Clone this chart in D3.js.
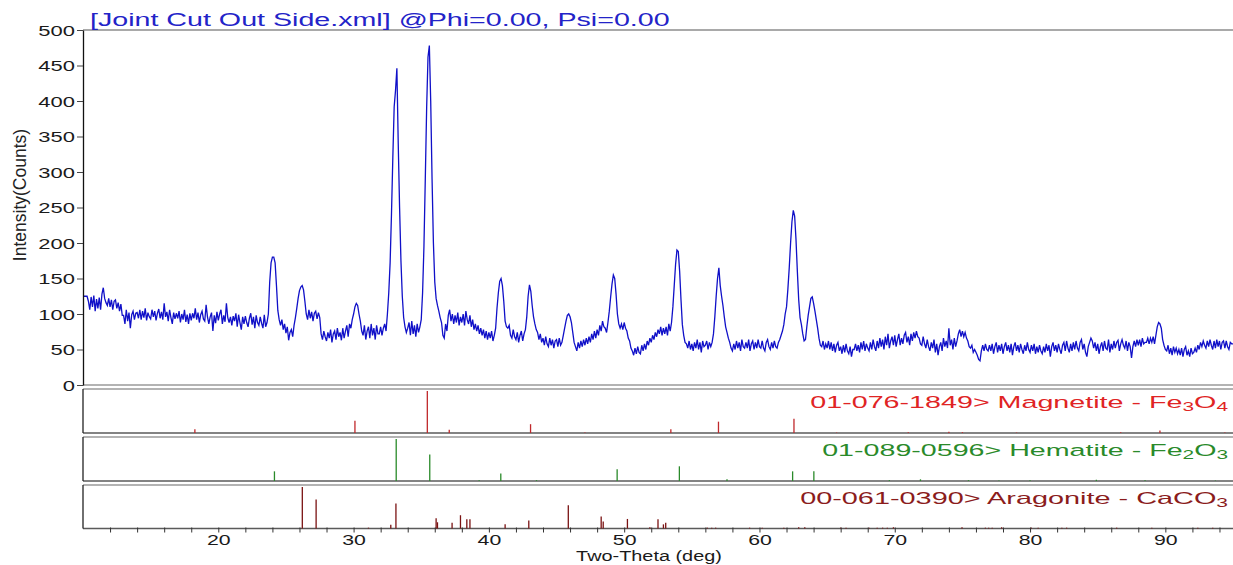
<!DOCTYPE html>
<html><head><meta charset="utf-8">
<script src="https://cdn.jsdelivr.net/npm/d3@7/dist/d3.min.js"></script>
<style>
body{margin:0;background:#fff}
svg{display:block}
text{font-family:"Liberation Sans",Arial,sans-serif}
</style>
</head><body>
<svg id="c" width="1233" height="565"></svg>
<script>
// ---------------- DATA ----------------
const titleText = "[Joint Cut Out Side.xml] @Phi=0.00, Psi=0.00";
const xLabel = "Two-Theta (deg)";
const yLabel = "Intensity(Counts)";
const xDomain = [10, 95];
const yDomain = [0, 500];
const yTicks = [0, 50, 100, 150, 200, 250, 300, 350, 400, 450, 500];
const xTicks = [12,14,16,18,20,22,24,26,28,30,32,34,36,38,40,42,44,46,48,50,52,54,56,58,60,62,64,66,68,70,72,74,76,78,80,82,84,86,88,90,92,94];
const xTickLabels = [20, 30, 40, 50, 60, 70, 80, 90];

// scan: start angle, step size, counts (one row per degree)
const scanStart = 10.0, scanStep = 0.1;
const counts = [
/*10*/125,125,125,125,118,106,124,110,126,104,
/*11*/121,108,123,106,128,137,122,116,112,122,
/*12*/110,120,106,118,120,108,116,104,114,98,
/*13*/98,86,106,90,102,80,99,104,92,101,
/*14*/102,94,106,92,104,95,108,91,102,96,
/*15*/93,106,96,104,91,101,107,94,103,92,
/*16*/115,96,103,90,106,95,86,102,93,101,
/*17*/94,104,88,100,92,106,89,99,86,101,
/*18*/91,101,94,108,92,102,88,99,104,93,
/*19*/90,113,96,86,96,102,76,98,87,103,
/*20*/91,100,106,86,98,89,115,95,88,96,
/*21*/84,97,90,101,82,99,88,78,96,86,
/*22*/97,88,82,94,101,85,96,80,98,88,
/*23*/84,96,87,80,99,82,88,100,145,172,
/*24*/180,180,172,140,105,92,84,92,78,86,
/*25*/73,82,63,74,78,68,84,95,108,122,
/*26*/133,138,140,134,118,100,92,106,94,103,
/*27*/90,101,104,93,102,95,72,64,76,68,
/*28*/62,74,66,78,60,72,76,64,80,68,
/*29*/74,63,80,66,76,84,68,86,80,92,
/*30*/100,110,115,112,100,90,76,70,84,64,
/*31*/76,82,66,86,70,80,64,84,72,72,
/*32*/82,70,80,86,76,100,130,172,240,320,
/*33*/392,415,446,340,250,175,125,95,82,74,
/*34*/80,88,70,90,72,84,68,86,74,82,
/*35*/92,130,195,290,390,462,478,400,290,200,
/*36*/145,122,112,104,95,88,70,66,86,76,
/*37*/98,106,90,100,86,98,88,102,84,96,
/*38*/88,100,84,104,92,86,98,82,92,78,
/*39*/86,76,84,72,80,70,78,66,76,64,
/*40*/74,66,76,62,70,80,108,130,146,150,
/*41*/140,118,90,82,80,84,70,66,78,68,
/*42*/64,74,60,70,76,62,72,78,96,125,
/*43*/141,132,112,96,86,78,74,64,72,60,
/*44*/66,56,68,58,54,66,56,64,52,62,
/*45*/64,54,66,56,60,70,80,90,98,100,
/*46*/96,88,74,60,54,48,60,52,62,54,
/*47*/64,56,66,58,68,60,72,64,76,66,
/*48*/78,70,84,76,90,82,80,74,88,104,
/*49*/124,142,155,150,128,100,86,80,86,78,
/*50*/88,80,76,66,62,52,48,42,52,44,
/*51*/54,46,44,56,48,58,50,62,56,66,
/*52*/60,70,64,74,68,78,72,82,70,80,
/*53*/72,82,70,86,76,88,110,140,170,190,
/*54*/188,160,120,85,70,60,58,52,62,50,
/*55*/58,48,60,52,64,50,60,46,62,54,
/*56*/56,62,50,60,54,60,72,96,125,150,
/*57*/165,140,125,112,96,82,74,66,60,52,
/*58*/48,58,50,62,52,60,48,64,54,52,
/*59*/60,52,64,48,58,62,50,60,52,64,
/*60*/54,52,62,52,48,60,64,54,50,60,
/*61*/52,62,54,52,60,64,70,76,85,100,
/*62*/110,135,165,200,230,246,238,205,160,120,
/*63*/95,85,72,62,64,82,98,110,122,124,
/*64*/115,104,92,80,66,56,54,62,50,58,
/*65*/52,62,50,60,48,58,46,56,60,48,
/*66*/54,44,56,46,58,48,44,54,40,50,
/*67*/50,58,48,56,46,60,50,62,48,58,
/*68*/52,48,60,50,64,54,48,62,52,66,
/*69*/54,64,50,68,56,72,52,62,68,56,
/*70*/70,54,64,72,56,66,58,70,74,60,
/*71*/68,56,72,62,74,66,76,68,66,58,
/*72*/56,68,58,52,64,54,48,60,52,64,
/*73*/46,58,42,54,60,48,66,54,62,52,
/*74*/80,56,64,50,66,54,62,72,78,68,
/*75*/76,68,74,66,62,54,52,56,46,50,
/*76*/46,42,36,34,48,56,48,58,50,48,
/*77*/56,48,58,44,54,60,46,56,48,58,
/*78*/44,54,60,48,56,46,58,42,54,60,
/*79*/48,56,46,58,50,44,56,48,60,50,
/*80*/46,56,48,58,44,54,46,56,48,44,
/*81*/54,46,58,48,56,40,54,60,48,56,
/*82*/46,58,50,44,56,60,48,62,52,46,
/*83*/58,48,60,50,62,52,48,60,64,50,
/*84*/58,46,40,54,60,66,62,52,60,48,
/*85*/58,44,54,60,48,62,52,50,64,46,
/*86*/58,50,62,52,60,63,48,58,64,56,
/*87*/52,62,48,60,54,38,54,62,54,64,
/*88*/56,64,54,66,58,60,60,66,58,66,
/*89*/60,68,58,70,82,88,86,80,64,56,
/*90*/50,48,56,44,52,42,54,46,52,44,
/*91*/50,42,52,40,50,54,42,48,40,52,
/*92*/44,46,52,46,56,50,60,54,62,56,
/*93*/52,62,54,64,56,50,62,52,64,54,
/*94*/62,50,60,62,52,62,54,50,60,58,
/*95*/58
];

// reference patterns (2-theta, relative intensity %)
const magnetiteLabel = ["01-076-1849> Magnetite - Fe", "3", "O", "4"];
const magnetitePos = [18.27, 30.10, 35.45, 37.07, 43.08, 47.1, 53.45, 56.97, 62.55, 65.7, 71.0, 74.0, 75.0, 79.0, 86.7, 89.6, 94.4];
const magnetiteInt = [9, 29, 100, 8, 21, 1, 9, 27, 34, 1, 2, 3, 2, 1, 2, 6, 1];

const hematiteLabel = ["01-089-0596> Hematite - Fe", "2", "O", "3"];
const hematitePos = [24.15, 33.15, 35.63, 39.28, 40.88, 43.52, 49.48, 54.08, 57.6, 62.45, 64.02, 69.6, 71.9, 75.45, 77.7, 80.0, 84.9, 88.5, 93.7];
const hematiteInt = [23, 100, 63, 2, 18, 2, 28, 35, 4, 23, 23, 2, 4, 2, 1, 2, 3, 2, 1];

const aragoniteLabel = ["00-061-0390> Aragonite - CaCO", "3"];
const aragonitePos = [26.21, 27.23, 31.1, 32.75, 33.13, 36.1, 36.2, 37.28, 37.9, 38.37, 38.6, 41.2, 42.95, 45.87, 48.3, 48.45, 50.24, 51.9, 52.5, 52.9, 53.07, 56.15, 56.47, 56.76, 59.27, 60.2, 61.8, 62.9, 63.35, 66.0, 66.4, 68.1, 68.7, 69.1, 69.45, 69.9, 74.97, 76.7, 76.94, 77.2, 77.9, 80.1, 80.6, 82.35, 82.7, 86.4, 89.0, 92.4, 93.5];
const aragoniteInt = [100, 70, 2, 9, 60, 25, 15, 14, 32, 22, 22, 10, 19, 56, 29, 17, 23, 3, 22, 10, 14, 2, 2, 2, 2, 2, 2, 3, 3, 2, 2, 2, 2, 2, 2, 3, 3, 2, 2, 2, 3, 2, 2, 2, 2, 2, 2, 2, 2];

// ---------------- DRAW ----------------
const svg = d3.select("#c");
const L = 83, R = 1233;
const mainTop = 30, mainBottom = 385;
const x = d3.scaleLinear().domain(xDomain).range([L, R]);
const y = d3.scaleLinear().domain(yDomain).range([mainBottom, mainTop]);

const scan = counts.map((c, i) => [scanStart + i * scanStep, c]);

// horizontally stretched text helper
function stretchText(g, target) {
  const t = g.select("text");
  const w = t.node().getComputedTextLength();
  const s = target / w;
  const tr = g.attr("data-tr");
  g.attr("transform", tr + ` scale(${s},1)`);
}

svg.append("defs").append("clipPath").attr("id", "clipMain")
  .append("rect").attr("x", L).attr("y", mainTop).attr("width", R - L).attr("height", mainBottom - mainTop);

// main frame lines
svg.append("line").attr("x1", L).attr("x2", R).attr("y1", mainTop).attr("y2", mainTop)
  .attr("stroke", "#8c8c8c").attr("stroke-width", 1.6);
svg.append("line").attr("x1", L).attr("x2", R).attr("y1", mainBottom).attr("y2", mainBottom)
  .attr("stroke", "#9a9a9a").attr("stroke-width", 1.4);

// scan line
svg.append("path").datum(scan)
  .attr("clip-path", "url(#clipMain)")
  .attr("fill", "none").attr("stroke", "#1010c8").attr("stroke-width", 1.3)
  .attr("stroke-linejoin", "miter")
  .attr("d", d3.line().x(d => x(d[0])).y(d => y(d[1])));

// y axis
const yAxisG = svg.append("g").attr("transform", `translate(${L},0)`)
  .call(d3.axisLeft(y).tickValues(yTicks).tickSize(6).tickSizeOuter(0));
yAxisG.select(".domain").attr("stroke", "#111").attr("stroke-width", 1.3);
yAxisG.selectAll(".tick line").attr("stroke", "#444");
yAxisG.selectAll(".tick text")
  .attr("x", 0).attr("dy", "0.36em")
  .attr("transform", "translate(-8,0) scale(1.57,1)")
  .attr("font-size", 14).attr("font-family", "Liberation Sans, Arial, sans-serif")
  .attr("fill", "#1a1a1a");

// y label
svg.append("text").text(yLabel)
  .attr("transform", "translate(25.5,195) rotate(-90)")
  .attr("text-anchor", "middle").attr("font-size", 17.5).attr("fill", "#222");

// title
{
  const g = svg.append("g").attr("data-tr", "translate(90,26)").attr("transform", "translate(90,26)");
  g.append("text").text(titleText).attr("font-size", 18).attr("fill", "#2323c8");
  stretchText(g, 580);
}

// stick panels
const panels = [
  {pos: magnetitePos, int: magnetiteInt, label: magnetiteLabel, top: 389, bottom: 433, stick: "#c0282b", text: "#e02424", width: 418},
  {pos: hematitePos, int: hematiteInt, label: hematiteLabel, top: 437, bottom: 481, stick: "#2a8a2a", text: "#2a8a2a", width: 406},
  {pos: aragonitePos, int: aragoniteInt, label: aragoniteLabel, top: 485, bottom: 528.5, stick: "#7a1212", text: "#8b1c1c", width: 428}
];

panels.forEach((p, k) => {
  const py = d3.scaleLinear().domain([0, 100]).range([p.bottom, p.top + 2]);
  svg.append("line").attr("x1", L).attr("x2", R).attr("y1", p.top).attr("y2", p.top)
    .attr("stroke", "#9a9a9a").attr("stroke-width", 1.4);
  svg.append("line").attr("x1", L).attr("x2", R).attr("y1", p.bottom).attr("y2", p.bottom)
    .attr("stroke", "#5a5a5a").attr("stroke-width", 1.3);
  svg.append("line").attr("x1", L).attr("x2", L).attr("y1", p.top).attr("y2", p.bottom)
    .attr("stroke", "#222").attr("stroke-width", 1.3);
  const sticks = p.pos.map((v, i) => [v, p.int[i]]);
  svg.append("g").selectAll("line").data(sticks).join("line")
    .attr("x1", d => x(d[0])).attr("x2", d => x(d[0]))
    .attr("y1", py(0)).attr("y2", d => py(d[1]))
    .attr("stroke", p.stick).attr("stroke-width", 1.3);
  const baseline = p.top + 19;
  const g = svg.append("g").attr("data-tr", `translate(1228,${baseline})`).attr("transform", `translate(1228,${baseline})`);
  const t = g.append("text").attr("text-anchor", "end").attr("font-size", 16.5).attr("fill", p.text);
  p.label.forEach((s, i) => {
    const sub = i % 2 === 1;
    const ts = t.append("tspan").text(s);
    if (sub) ts.attr("font-size", 12).attr("dy", 3);
    else if (i > 0) ts.attr("dy", -3);
  });
  stretchText(g, p.width);
});

// x axis at bottom of last panel
const xAxisG = svg.append("g").attr("transform", `translate(0,${panels[2].bottom})`)
  .call(d3.axisBottom(x).tickValues(xTicks).tickSize(4).tickSizeOuter(0)
    .tickFormat(d => xTickLabels.includes(d) ? d : ""));
xAxisG.select(".domain").remove();
xAxisG.selectAll(".tick line").attr("stroke", "#333").attr("y1", -1);
xAxisG.selectAll(".tick text")
  .attr("y", 6.5).attr("dy", "0.71em")
  .attr("transform", "scale(1.52,1)")
  .attr("font-size", 14).attr("font-family", "Liberation Sans, Arial, sans-serif")
  .attr("fill", "#1a1a1a");

// x label
{
  const g = svg.append("g").attr("data-tr", "translate(649,561)").attr("transform", "translate(649,561)");
  g.append("text").text(xLabel).attr("text-anchor", "middle").attr("font-size", 14.5).attr("fill", "#1a1a1a");
  stretchText(g, 146);
}
</script>
</body></html>
